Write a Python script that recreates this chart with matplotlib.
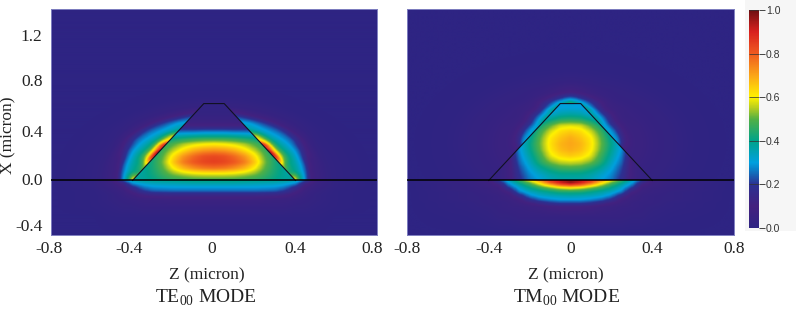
import numpy as np
import matplotlib
matplotlib.use('Agg')
import matplotlib.pyplot as plt
from matplotlib.colors import LinearSegmentedColormap, Normalize
from matplotlib.cm import ScalarMappable
from matplotlib.patches import Polygon, Rectangle
from matplotlib.transforms import ScaledTranslation

plt.rcParams['font.family'] = ['Liberation Serif', 'DejaVu Serif']
plt.rcParams['mathtext.fontset'] = 'custom'
plt.rcParams['mathtext.rm'] = 'Liberation Serif'

# waveguide outline
core_z = [-0.4, -0.05, 0.05, 0.4]
core_x = [0.0, 0.63, 0.63, 0.0]

color_stops = [0.0, 0.1, 0.2, 0.27, 0.3, 0.4, 0.5, 0.55, 0.6, 0.7, 0.8, 0.9, 1.0]
color_names = ['#2e2483', '#43217f', '#2c3192', '#0a80c8', '#00a0de', '#00a38a', '#52b044',
               '#b5cc20', '#fff200', '#fba518', '#ef5b20', '#d9201f', '#6e0f12']

# TE mode (right half, the field is symmetric)
te_core_z = [0, .05, .1, .15, .2, .25, .3, .35, .4, .45]
te_core_x = [0, .05, .1, .15, .2, .25, .3, .35, .4, .45, .5, .55, .6, .65]
te_core = [
    [.47, .47, .47, .46, .45, .43, .40, .38, .40, .50],
    [.58, .58, .57, .55, .52, .47, .42, .38, .36, .30],
    [.77, .76, .73, .68, .60, .50, .43, .38, .35, .30],
    [.85, .84, .81, .76, .66, .52, .43, .38, .35, .30],
    [.83, .82, .78, .72, .62, .50, .42, .37, .33, .30],
    [.72, .71, .68, .62, .55, .47, .41, .35, .32, .30],
    [.60, .59, .57, .54, .49, .44, .38, .34, .30, .28],
    [.44, .44, .43, .41, .39, .36, .33, .30, .28, .26],
    [.27, .27, .26, .26, .25, .24, .24, .22, .20, .20],
    [.10, .10, .10, .10, .10, .10, .10, .10, .10, .10],
    [.05, .05, .05, .05, .05, .05, .05, .05, .05, .05],
    [.03, .03, .03, .03, .03, .03, .03, .03, .03, .03],
    [.02, .02, .02, .02, .02, .02, .02, .02, .02, .02],
    [.02, .02, .02, .02, .02, .02, .02, .02, .02, .02],
]
te_outer_r = [.34, .36, .38, .40, .42, .44, .46, .48, .50, .53, .56, .60, .68, .80]
te_outer_deg = [0, 10, 20, 30, 40, 50, 60, 70, 80, 90]
te_outer = [
    [.60, .60, .60, .60, .45, .33, .20, .09, .07, .05, .03, .02, .01, 0],
    [.46, .46, .42, .40, .36, .30, .22, .09, .07, .05, .03, .02, .01, 0],
    [.55, .55, .45, .40, .37, .32, .25, .15, .08, .06, .03, .02, .01, 0],
    [.85, .82, .58, .47, .40, .35, .30, .24, .16, .08, .04, .02, .01, 0],
    [.95, .95, .65, .50, .41, .36, .32, .28, .24, .15, .07, .03, .01, 0],
    [.90, .90, .90, .62, .47, .38, .33, .29, .26, .19, .08, .04, .01, 0],
    [.60, .60, .60, .60, .55, .42, .34, .30, .26, .20, .09, .04, .01, 0],
    [.40, .40, .40, .40, .40, .40, .35, .33, .29, .20, .09, .04, .01, 0],
    [.28, .28, .28, .28, .28, .28, .28, .28, .27, .22, .11, .04, .01, 0],
    [.15, .15, .15, .15, .15, .15, .15, .15, .15, .15, .09, .04, .01, 0],
]
te_sub_z = [0, .1, .2, .3, .35, .4, .45, .5, .6, .8]
te_sub_x = [-.45, -.3, -.22, -.16, -.12, -.09, -.06, -.03, 0]
te_sub = [
    [0, 0, 0, 0, 0, 0, 0, 0, 0, 0],
    [.01, .01, .01, .01, .01, .01, .01, .01, 0, 0],
    [.04, .04, .04, .04, .04, .03, .03, .02, .01, 0],
    [.07, .07, .07, .06, .06, .05, .04, .03, .01, 0],
    [.15, .15, .15, .14, .12, .08, .05, .03, .01, 0],
    [.25, .25, .25, .24, .20, .12, .06, .04, .01, 0],
    [.30, .30, .30, .29, .26, .18, .08, .05, .02, 0],
    [.36, .36, .35, .34, .32, .28, .12, .06, .02, 0],
    [.42, .42, .41, .40, .39, .37, .24, .07, .02, 0],
]

# TM mode
tm_core_z = [0, .05, .1, .15, .2, .25, .3, .35, .4]
tm_core_x = te_core_x
tm_core = [
    [.36, .36, .34, .30, .26, .18, .08, .04, .03],
    [.39, .39, .37, .33, .28, .20, .08, .04, .03],
    [.48, .47, .43, .38, .31, .22, .08, .04, .03],
    [.57, .56, .52, .44, .34, .25, .08, .04, .03],
    [.65, .63, .58, .47, .37, .27, .09, .04, .03],
    [.69, .67, .61, .50, .39, .29, .09, .04, .03],
    [.70, .68, .62, .51, .40, .29, .09, .04, .03],
    [.69, .66, .61, .50, .38, .28, .09, .04, .03],
    [.65, .63, .57, .47, .35, .25, .08, .04, .03],
    [.58, .57, .50, .41, .30, .20, .08, .04, .03],
    [.45, .44, .39, .33, .25, .18, .08, .04, .03],
    [.36, .35, .31, .27, .20, .15, .07, .04, .03],
    [.30, .30, .27, .22, .17, .12, .07, .04, .03],
    [.32, .30, .27, .22, .17, .12, .07, .04, .03],
]
tm_outer_x0 = 0.3
tm_outer_r = [.20, .23, .26, .29, .32, .35, .38, .42, .50, .60, .80]
tm_outer_deg = [-90, -60, -30, 0, 20, 40, 60, 75, 90]
tm_outer = [
    [.05, .05, .05, .05, .05, .05, .05, .04, .03, .01, 0],
    [.05, .05, .05, .05, .05, .05, .05, .04, .03, .01, 0],
    [.06, .06, .06, .06, .06, .06, .05, .04, .03, .01, 0],
    [.30, .30, .13, .08, .06, .06, .05, .04, .03, .01, 0],
    [.33, .27, .15, .08, .06, .06, .05, .04, .03, .01, 0],
    [.35, .28, .17, .09, .06, .05, .05, .04, .03, .01, 0],
    [.42, .42, .33, .22, .12, .07, .06, .04, .03, .01, 0],
    [.42, .42, .42, .42, .30, .22, .12, .06, .03, .01, 0],
    [.50, .50, .50, .50, .50, .35, .23, .10, .04, .01, 0],
]
tm_sub_z = [0, .05, .1, .15, .2, .25, .3, .35, .4, .5, .8]
tm_sub_x = [-.45, -.3, -.22, -.19, -.16, -.13, -.1, -.08, -.06, -.04, -.02, 0]
tm_sub = [
    [0, 0, 0, 0, 0, 0, 0, 0, 0, 0, 0],
    [.04, .04, .04, .04, .04, .04, .03, .03, .02, .01, 0],
    [.10, .10, .09, .07, .06, .05, .05, .04, .03, .02, 0],
    [.21, .21, .19, .15, .10, .07, .05, .04, .04, .02, 0],
    [.30, .30, .28, .25, .19, .09, .06, .05, .04, .03, 0],
    [.36, .35, .34, .32, .27, .16, .07, .05, .04, .03, 0],
    [.43, .43, .40, .37, .33, .26, .11, .06, .05, .03, 0],
    [.52, .50, .46, .42, .37, .30, .16, .07, .05, .04, 0],
    [.65, .62, .55, .48, .41, .33, .22, .08, .06, .04, 0],
    [.85, .80, .68, .56, .46, .37, .27, .11, .07, .04, 0],
    [.98, .92, .82, .65, .52, .42, .31, .16, .07, .05, 0],
    [.95, .92, .85, .75, .62, .48, .35, .22, .08, .05, 0],
]

mode_cmap = LinearSegmentedColormap.from_list('mode', list(zip(color_stops, color_names)), N=512)
mode_norm = Normalize(0, 1)
z_lim = (-0.8, 0.8)
x_lim = (-0.447, 1.405)


def fig_box(x0, y0, x1, y1):
    # pixel box (y from the top) to figure fractions
    return [x0 / 796, 1 - y1 / 310, (x1 - x0) / 796, (y1 - y0) / 310]


def soften(t, n, axis):
    # small moving average so the table cells do not show
    if n < 3:
        return t
    k = np.hanning(n + 2)[1:-1]
    k = k / k.sum()
    pad = n // 2
    t = np.pad(t, [(pad, pad) if i == axis else (0, 0) for i in range(2)], mode='edge')
    return np.apply_along_axis(lambda a: np.convolve(a, k, mode='valid'), axis, t)


def lookup(a, b, table, qa, qb, blur_a, blur_b):
    # a along rows, b along columns
    a = np.array(a, float)
    b = np.array(b, float)
    fa = np.linspace(a[0], a[-1], 300)
    fb = np.linspace(b[0], b[-1], 300)
    t = np.array([np.interp(fb, b, row) for row in np.array(table, float)])
    t = np.array([np.interp(fa, a, col) for col in t.T]).T
    t = soften(t, int(blur_a / (fa[1] - fa[0])) | 1, 0)
    t = soften(t, int(blur_b / (fb[1] - fb[0])) | 1, 1)
    ia = np.clip(np.rint((qa - a[0]) / (fa[1] - fa[0])).astype(int), 0, 299)
    ib = np.clip(np.rint((qb - b[0]) / (fb[1] - fb[0])).astype(int), 0, 299)
    return t[ia, ib]


gz, gx = np.meshgrid(np.linspace(*z_lim, 652), np.linspace(*x_lim, 452))


def rect_field(zs, xs, table, blur_x=.05, blur_z=.05):
    return lookup(xs, zs, table, gx, np.abs(gz), blur_x, blur_z)


def polar_field(rs, degs, table, x0=0.0, blur_deg=10, blur_r=.02):
    r = np.hypot(gz, gx - x0)
    deg = np.degrees(np.arctan2(gx - x0, np.abs(gz)))
    return lookup(degs, rs, table, deg, r, blur_deg, blur_r)


def paint(ax, field, clip):
    im = ax.imshow(field, origin='lower', extent=[*z_lim, *x_lim], cmap=mode_cmap,
                   norm=mode_norm, interpolation='bilinear', aspect='auto', zorder=1)
    ax.add_patch(clip)
    im.set_clip_path(clip)


def shift(label, dx, dy):
    label.set_transform(label.get_transform() + ScaledTranslation(dx / 100, dy / 100, fig.dpi_scale_trans))


def panel(box, core, outer, sub, left):
    ax = fig.add_axes(box)
    ax.set_facecolor(mode_cmap(0.0))
    above = Rectangle((z_lim[0], 0), 1.6, x_lim[1], fc='none', ec='none', transform=ax.transData)
    below = Rectangle((z_lim[0], x_lim[0]), 1.6, -x_lim[0], fc='none', ec='none', transform=ax.transData)
    shape = Polygon(np.column_stack((core_z, core_x)), fc='none', ec='none', transform=ax.transData)
    paint(ax, outer, above)
    paint(ax, core, shape)
    paint(ax, sub, below)
    ax.plot(core_z, core_x, color='#111122', lw=0.8, zorder=3)
    ax.axhline(0, color='black', lw=1.1, zorder=4)
    ax.set_xlim(*z_lim)
    ax.set_ylim(*x_lim)
    ax.set_xticks([-0.8, -0.4, 0, 0.4, 0.8])
    ax.set_xticklabels(['-0.8', '-0.4', '0', '0.4', '0.8'], fontsize=12.5, color='#222222')
    ax.tick_params(axis='both', length=0, pad=4)
    if left:
        ax.set_yticks([-0.4, 0.0, 0.4, 0.8, 1.2])
        ax.set_yticklabels(['-0.4', '0.0', '0.4', '0.8', '1.2'], fontsize=12.5, color='#222222')
        ax.tick_params(axis='y', pad=6)
        for lab, dy in zip(ax.get_yticklabels(), [4, 1, 1, 3, -1]):
            shift(lab, 0, dy)
        shift(ax.get_xticklabels()[0], -2, 0)
        shift(ax.get_xticklabels()[1], -3, 0)
        shift(ax.get_xticklabels()[2], -2, 0)
        shift(ax.get_xticklabels()[-1], -5, 0)
    else:
        ax.set_yticks([])
    for s in ax.spines.values():
        s.set_color('#7f7fc0')
        s.set_linewidth(0.7)
    return ax


fig = plt.figure(figsize=(7.96, 3.10), dpi=100, facecolor='white')

panel(fig_box(51, 9, 377, 235),
      rect_field(te_core_z, te_core_x, te_core, blur_x=.04, blur_z=.05),
      polar_field(te_outer_r, te_outer_deg, te_outer, blur_deg=8, blur_r=.012),
      rect_field(te_sub_z, te_sub_x, te_sub, blur_x=.025), True)
panel(fig_box(407, 9, 734, 235),
      rect_field(tm_core_z, tm_core_x, tm_core, blur_x=.04, blur_z=.04),
      polar_field(tm_outer_r, tm_outer_deg, tm_outer, tm_outer_x0, blur_deg=15, blur_r=.03),
      rect_field(tm_sub_z, tm_sub_x, tm_sub, blur_x=.012, blur_z=.03), False)

fig.text(8 / 796, 1 - 135 / 310, 'X (micron)', rotation=90, ha='center', va='center', fontsize=12.5, color='#222222')
fig.text(207 / 796, 1 - 275 / 310, 'Z (micron)', ha='center', va='center', fontsize=12.5, color='#222222')
fig.text(566 / 796, 1 - 275 / 310, 'Z (micron)', ha='center', va='center', fontsize=12.5, color='#222222')
fig.text(206 / 796, 1 - 298 / 310, r'TE$_{00}$ MODE', ha='center', va='center', fontsize=14, color='#222222')
fig.text(566 / 796, 1 - 298 / 310, r'TM$_{00}$ MODE', ha='center', va='center', fontsize=14, color='#222222')

# grey panel behind the colour bar
fig.patches.append(Rectangle((745 / 796, 1 - 231 / 310), 51 / 796, 231 / 310, transform=fig.transFigure,
                             fc='#f6f6f6', ec='none', zorder=-1, figure=fig))
cb_ticks = [0, 0.2, 0.4, 0.6, 0.8, 1.0]
cax = fig.add_axes(fig_box(749, 10, 759, 228))
cb = fig.colorbar(ScalarMappable(norm=mode_norm, cmap=mode_cmap), cax=cax)
cb.set_ticks(cb_ticks)
cb.ax.set_yticklabels(['0.0', '0.2', '0.4', '0.6', '0.8', '1.0'], family='Liberation Sans', fontsize=7.5, color='#333333')
cb.ax.tick_params(length=4, width=0.7, color='#444444', pad=1)
cb.ax.hlines(cb_ticks, 0, 1, colors='#333333', lw=0.7, alpha=0.75, transform=cb.ax.get_yaxis_transform())
cb.outline.set_visible(False)

fig.savefig('out.png', dpi=100)
